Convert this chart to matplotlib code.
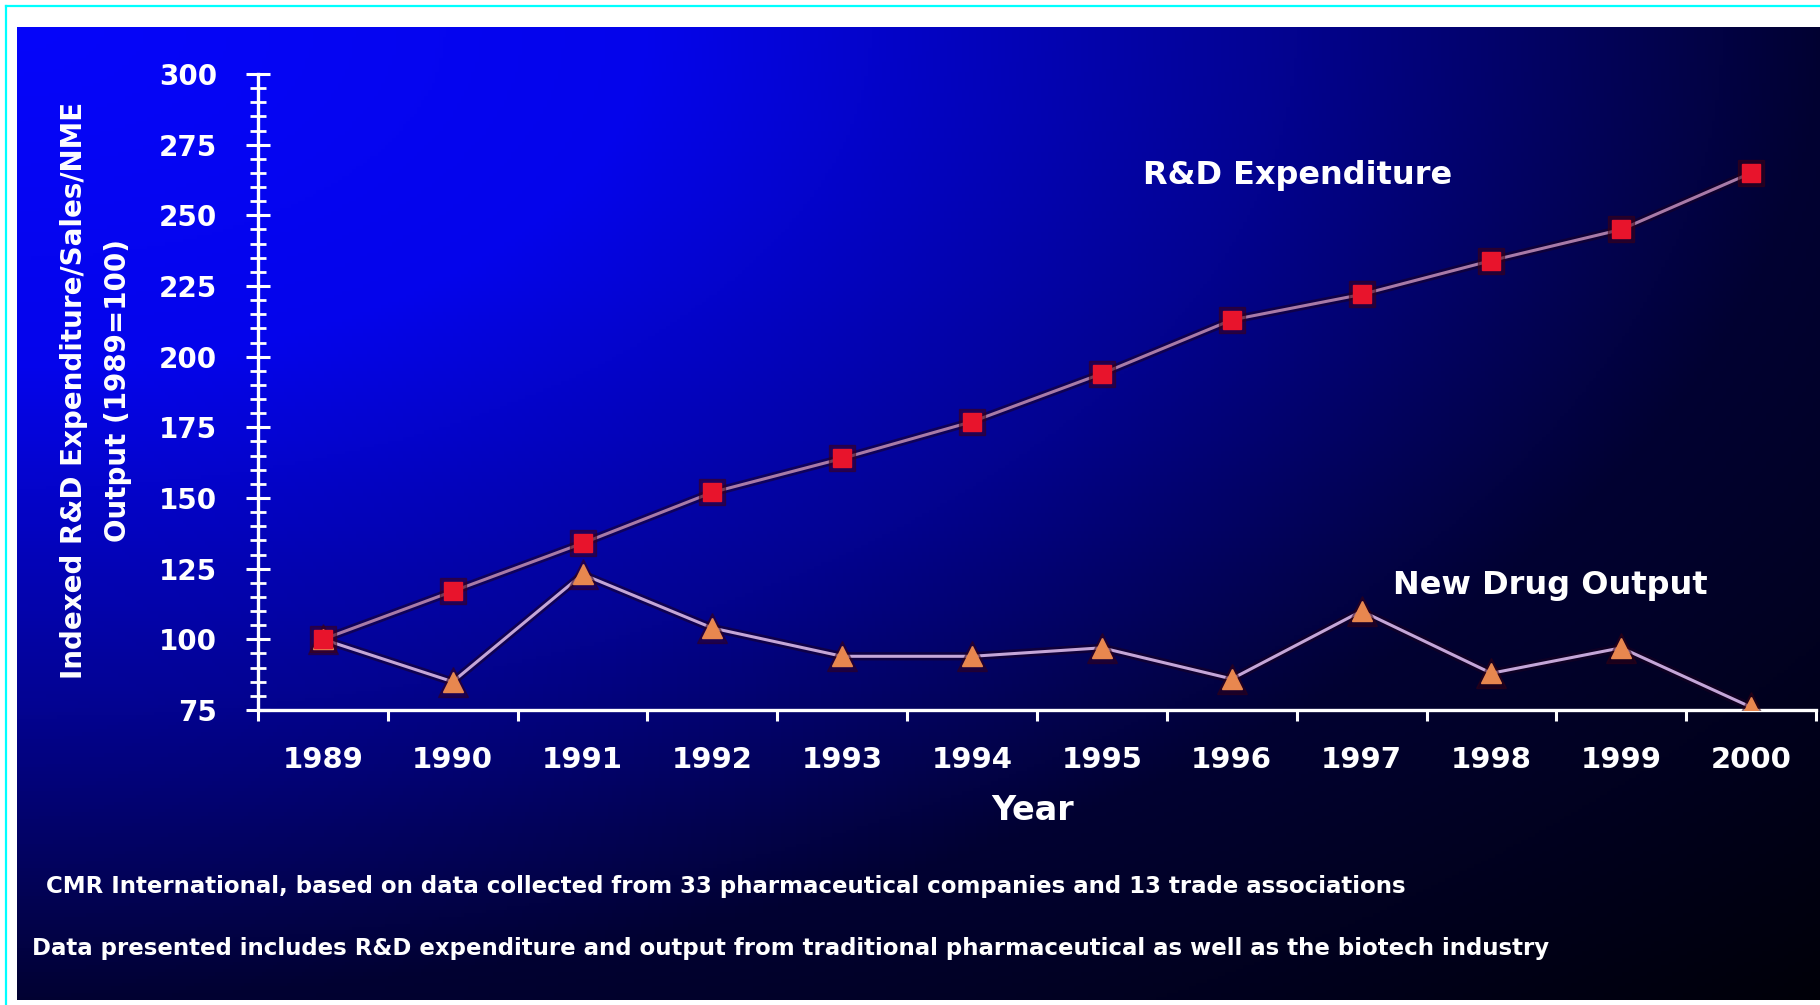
import numpy as np
import matplotlib
matplotlib.use("Agg")
import matplotlib.pyplot as plt
from matplotlib.lines import Line2D
from matplotlib.ticker import MultipleLocator
import matplotlib.patheffects as pe

years = ["1989", "1990", "1991", "1992", "1993", "1994",
         "1995", "1996", "1997", "1998", "1999", "2000"]
rd_expenditure = [100, 117, 134, 152, 164, 177, 194, 213, 222, 234, 245, 265]
new_drug_output = [100, 85, 123, 104, 94, 94, 97, 86, 110, 88, 97, 76]

y_label = "Indexed R&D Expenditure/Sales/NME\nOutput (1989=100)"
x_label = "Year"
note_1 = ("CMR International, based on data collected from 33 pharmaceutical "
          "companies and 13 trade associations")
note_2 = ("Data presented includes R&D expenditure and output from traditional "
          "pharmaceutical as well as the biotech industry")

W, H = 1820, 1005
fig = plt.figure(figsize=(W / 100, H / 100), dpi=100, facecolor="white")

# blue slide background, fading from the top-left corner
bg = fig.add_axes([17 / W, 5 / H, (W - 17) / W, (1000 - 27) / H])
bg.axis("off")
gx, gy = np.meshgrid(np.linspace(0, 1, 500), np.linspace(0, 1, 280))
r = np.sqrt(gx ** 2 + gy ** 2)
blue = np.interp(r, [0, 0.35, 0.7, 1.0, 1.42], [250, 235, 145, 50, 8]) / 255
rg = np.interp(r, [0, 1.42], [6, 0]) / 255
img = np.dstack([rg, rg, blue])
bg.imshow(img, aspect="auto", extent=[0, 1, 0, 1], origin="upper")

# thin cyan frame on the left and top
fig.add_artist(Line2D([6 / W, 6 / W], [0, 1 - 6 / H], transform=fig.transFigure,
                      color="#00ffff", lw=1.6))
fig.add_artist(Line2D([6 / W, 1], [1 - 6 / H, 1 - 6 / H], transform=fig.transFigure,
                      color="#00ffff", lw=1.6))

ax = fig.add_axes([258 / W, 1 - 710 / H, (1816 - 258) / W, (710 - 74) / H])
ax.set_facecolor("none")

x = np.arange(len(years))
halo = [pe.Stroke(linewidth=6, foreground="#1a0020", alpha=0.55), pe.Normal()]

ax.plot(x, new_drug_output, color="#c4a6d8", lw=2.2, zorder=3, path_effects=halo)
ax.plot(x, new_drug_output, ls="none", marker="^", markersize=22,
        color="#3a0010", alpha=0.45, zorder=4)
ax.plot(x, new_drug_output, ls="none", marker="^", markersize=15,
        color="#e8874f", markeredgecolor="#e8874f", zorder=5)

ax.plot(x, rd_expenditure, color="#a87aa8", lw=2.2, zorder=3, path_effects=halo)
ax.plot(x, rd_expenditure, ls="none", marker="s", markersize=19,
        color="#400010", alpha=0.5, zorder=4)
ax.plot(x, rd_expenditure, ls="none", marker="s", markersize=13,
        color="#e8142c", markeredgecolor="#e8142c", zorder=5)

ax.set_xlim(-0.5, 11.5)
ax.set_ylim(75, 300)

for side in ["top", "right"]:
    ax.spines[side].set_visible(False)
for side in ["left", "bottom"]:
    ax.spines[side].set_color("white")
    ax.spines[side].set_linewidth(2.4)

ax.set_yticks(range(75, 301, 25))
ax.yaxis.set_minor_locator(MultipleLocator(5))
ax.tick_params(axis="y", which="major", direction="inout", length=17, width=2.2,
               color="white", labelcolor="white", labelsize=20, pad=21)
ax.tick_params(axis="y", which="minor", direction="inout", length=12, width=2.0,
               color="white")
for lab in ax.get_yticklabels():
    lab.set_fontweight("bold")

# ticks between the years, labels centred under each year
ax.set_xticks(np.arange(-0.5, 12, 1))
ax.set_xticklabels([])
ax.set_xticks(x, minor=True)
ax.set_xticklabels(years, minor=True, fontsize=21, fontweight="bold", color="white")
ax.tick_params(axis="x", which="major", direction="out", length=8, width=2.2,
               color="white")
ax.tick_params(axis="x", which="minor", length=0, pad=26)

ax.text(6.32, 264, "R&D Expenditure", color="white", fontsize=23,
        fontweight="bold", ha="left", va="center")
ax.text(8.24, 119, "New Drug Output", color="white", fontsize=23,
        fontweight="bold", ha="left", va="center")

fig.text(1033 / W, 1 - 810 / H, x_label, color="white", fontsize=24,
         fontweight="bold", ha="center", va="center")
fig.text(96 / W, 1 - 390 / H, y_label, color="white", fontsize=20,
         fontweight="bold", rotation=90, ha="center", va="center",
         multialignment="center", linespacing=1.7)

fig.text(46 / W, 1 - 886 / H, note_1, color="white", fontsize=16.5,
         fontweight="bold", ha="left", va="center")
fig.text(32 / W, 1 - 948 / H, note_2, color="white", fontsize=16.5,
         fontweight="bold", ha="left", va="center")

fig.savefig("out.png", dpi=100, facecolor="white")
